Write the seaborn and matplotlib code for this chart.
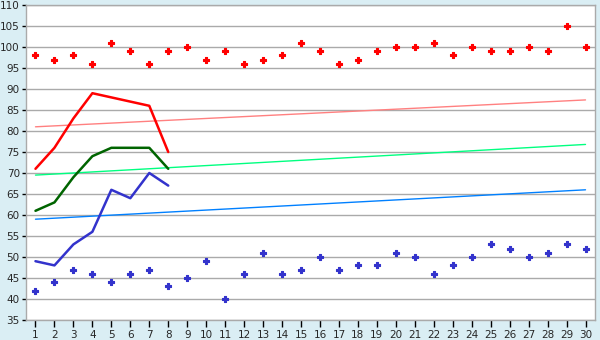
import matplotlib
matplotlib.use("Agg")
import matplotlib.pyplot as plt
import seaborn as sns
import pandas as pd

days = list(range(1, 31))
red_points = [98, 97, 98, 96, 101, 99, 96, 99, 100, 97, 99, 96, 97, 98, 101,
              99, 96, 97, 99, 100, 100, 101, 98, 100, 99, 99, 100, 99, 105, 100]
blue_points = [42, 44, 47, 46, 44, 46, 47, 43, 45, 49, 40, 46, 51, 46, 47,
               50, 47, 48, 48, 51, 50, 46, 48, 50, 53, 52, 50, 51, 53, 52]

line_days = [1, 2, 3, 4, 5, 6, 7, 8]
red_line = [71, 76, 83, 89, 88, 87, 86, 75]
green_line = [61, 63, 69, 74, 76, 76, 76, 71]
blue_line = [49, 48, 53, 56, 66, 64, 70, 67]

trend_days = [1, 30]
red_trend = [81, 87.4]
green_trend = [69.5, 76.8]
blue_trend = [59, 66]

y_ticks = list(range(35, 111, 5))

sns.set_theme(style="white")
plt.rcParams['font.family'] = ['DejaVu Sans']

bg = "#DAEEF4"
grid_c = "#AAAAAA"
fig = plt.figure(figsize=(6, 3.4), dpi=100, facecolor=bg)
ax = fig.add_axes([26 / 600, 1 - 320 / 340, (595 - 26) / 600, (320 - 5) / 340])
ax.set_facecolor("white")

# trend lines
sns.lineplot(x=trend_days, y=red_trend, color="#FF8080", linewidth=1.0, ax=ax)
sns.lineplot(x=trend_days, y=green_trend, color="#00FF80", linewidth=1.0, ax=ax)
sns.lineplot(x=trend_days, y=blue_trend, color="#0080FF", linewidth=1.0, ax=ax)

# main lines
sns.lineplot(x=line_days, y=red_line, color="#FF0000", linewidth=1.8, ax=ax)
sns.lineplot(x=line_days, y=green_line, color="#006400", linewidth=1.8, ax=ax)
sns.lineplot(x=line_days, y=blue_line, color="#3333CC", linewidth=1.8, ax=ax)

# scatter points
sns.scatterplot(x=days, y=red_points, color="#FF0000", marker="P", s=16,
                edgecolor="#FF0000", linewidth=0.8, ax=ax, zorder=5)
sns.scatterplot(x=days, y=blue_points, color="#3333CC", marker="P", s=16,
                edgecolor="#3333CC", linewidth=0.8, ax=ax, zorder=5)

ax.set_xlim(0.5, 30.5)
ax.set_ylim(35, 110)
ax.set_xticks(days)
ax.set_xticklabels([str(d) for d in days])
ax.set_yticks(y_ticks)
ax.set_yticklabels([str(t) for t in y_ticks])
ax.yaxis.grid(True, color=grid_c, linewidth=1.0)
ax.xaxis.grid(False)
ax.set_axisbelow(True)
for s in ax.spines.values():
    s.set_color(grid_c)
    s.set_linewidth(1.0)
ax.tick_params(axis="x", direction="out", length=5, width=1, color="#000000",
               labelsize=7.5, pad=2, bottom=True)
ax.tick_params(axis="y", direction="out", length=3, width=1, color="#000000",
               labelsize=7.5, pad=1.5, left=True)
ax.set_xlabel("")
ax.set_ylabel("")

fig.savefig("out.png", dpi=100, facecolor=bg)
